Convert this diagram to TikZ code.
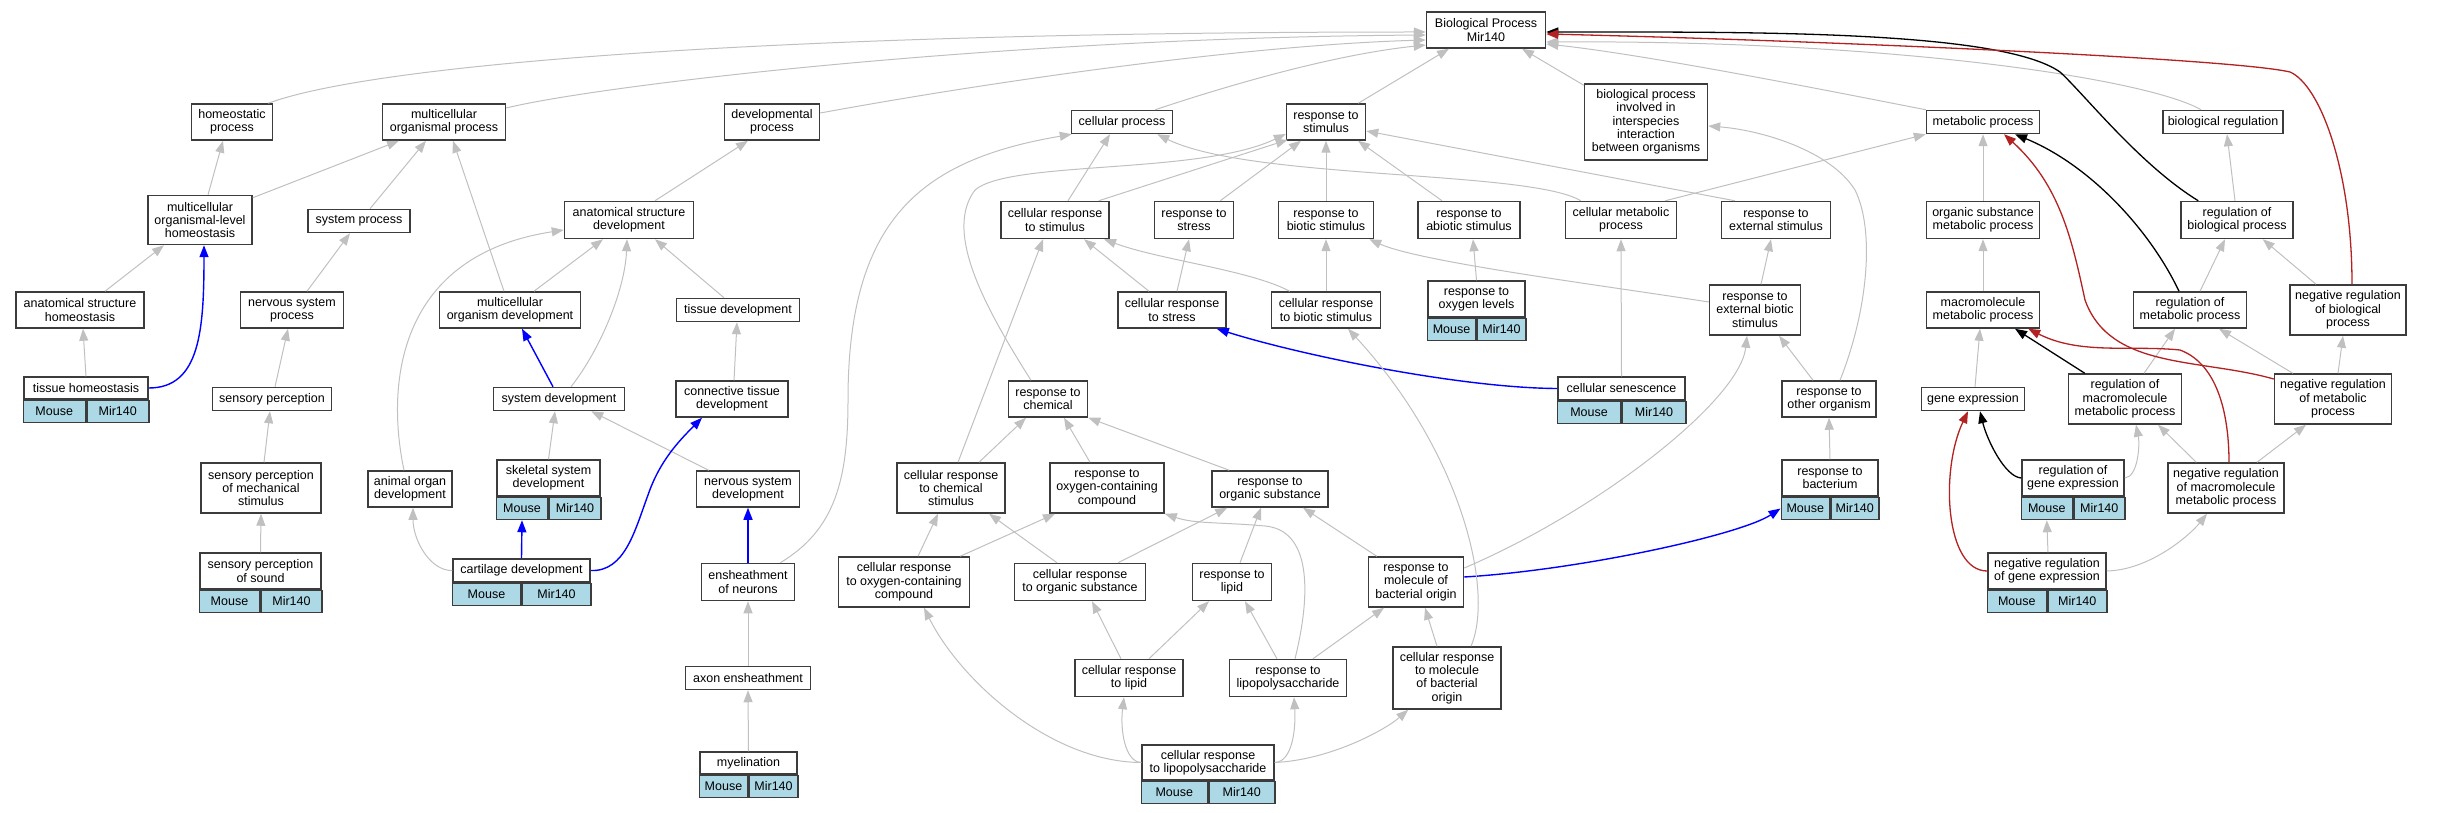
\documentclass[tikz,border=0pt]{standalone}
\usepackage{fontspec}
\setmainfont{Liberation Sans}
\usetikzlibrary{arrows.meta}
\definecolor{edgegray}{HTML}{C0C0C0}
\definecolor{boxblue}{HTML}{ADD8E6}
\definecolor{negred}{HTML}{B22222}
\definecolor{boxline}{HTML}{3C3C3C}

\begin{document}
\begin{tikzpicture}[x=1pt, y=-1pt,
    term/.style 2 args={draw=boxline, line width=1.5pt, fill=white, align=center, inner sep=0pt,
        minimum width=#1pt, minimum height=#2pt, font=\fontsize{12.5}{13.3}\selectfont},
    cell/.style={draw=boxline, line width=1.5pt, fill=boxblue, inner sep=0pt,
        minimum height=22pt, font=\fontsize{12.5}{13.3}\selectfont},
    isa/.style={draw=edgegray, line width=1pt, -{Triangle[length=12pt,width=9pt]}},
    partof/.style={isa, draw=blue, line width=1.4pt},
    regulates/.style={isa, draw=black, line width=1.3pt},
    negreg/.style={isa, draw=negred, line width=1.3pt}]

    \useasboundingbox (0,0) rectangle (2437,813);

    % Row 1
    \node[term={119}{36}] (bp) at (1486,30) {Biological Process\\Mir140};
    \node[term={81}{36}] (homeo) at (232,122) {homeostatic\\process};
    \node[term={123}{36}] (mcop) at (444,122) {multicellular\\organismal process};
    \node[term={95}{36}] (devproc) at (772,122) {developmental\\process};
    \node[term={101}{23}] (cellproc) at (1122,122) {cellular process};
    \node[term={79}{36}] (respstim) at (1326,122) {response to\\stimulus};
    \node[term={123}{76}] (interspecies) at (1646,122) {biological process\\involved in\\interspecies\\interaction\\between organisms};
    \node[term={113}{23}] (metproc) at (1983,122) {metabolic process};
    \node[term={120}{23}] (bioreg) at (2223,122) {biological regulation};

    % Row 2
    \node[term={104}{49}] (mclhomeo) at (200,220) {multicellular\\organismal-level\\homeostasis};
    \node[term={102}{23}] (sysproc) at (359,221) {system process};
    \node[term={129}{37}] (asdev) at (629,220) {anatomical structure\\development};
    \node[term={108}{37}] (crstim) at (1055,220) {cellular response\\to stimulus};
    \node[term={79}{37}] (respstress) at (1194,220) {response to\\stress};
    \node[term={95}{37}] (respbiotic) at (1326,220) {response to\\biotic stimulus};
    \node[term={102}{37}] (respabiotic) at (1469,220) {response to\\abiotic stimulus};
    \node[term={111}{37}] (cellmet) at (1621,220) {cellular metabolic\\process};
    \node[term={109}{37}] (respext) at (1776,220) {response to\\external stimulus};
    \node[term={113}{37}] (osmet) at (1983,220) {organic substance\\metabolic process};
    \node[term={112}{37}] (regbio) at (2237,220) {regulation of\\biological process};

    % Row 3
    \node[term={128}{36}] (ashomeo) at (80,310) {anatomical structure\\homeostasis};
    \node[term={103}{36}] (nsproc) at (292,310) {nervous system\\process};
    \node[term={141}{36}] (mcodev) at (510,310) {multicellular\\organism development};
    \node[term={123}{23}] (tissuedev) at (738,310) {tissue development};
    \node[term={108}{36}] (crstress) at (1172,310) {cellular response\\to stress};
    \node[term={109}{36}] (crbiotic) at (1326,310) {cellular response\\to biotic stimulus};
    \node[term={97}{36}] (respox) at (1476.5,299) {response to\\oxygen levels};
    \node[term={91}{50}] (respextbio) at (1755,310) {response to\\external biotic\\stimulus};
    \node[term={113}{36}] (macromet) at (1983,310) {macromolecule\\metabolic process};
    \node[term={113}{36}] (regmet) at (2190,310) {regulation of\\metabolic process};
    \node[term={116}{50}] (negregbio) at (2348,310) {negative regulation\\of biological\\process};

    % Row 4
    \node[term={124}{22}] (tissuehomeo) at (86,388) {tissue homeostasis};
    \node[term={119}{23}] (sensperc) at (272,399) {sensory perception};
    \node[term={131}{23}] (sysdev) at (559,399) {system development};
    \node[term={112}{36}] (ctdev) at (732,399) {connective tissue\\development};
    \node[term={79}{36}] (respchem) at (1048,399) {response to\\chemical};
    \node[term={127}{23}] (cellsen) at (1621.5,388.5) {cellular senescence};
    \node[term={94}{36}] (respother) at (1829,399) {response to\\other organism};
    \node[term={103}{23}] (geneexp) at (1973,399) {gene expression};
    \node[term={113}{50}] (regmacro) at (2125,399) {regulation of\\macromolecule\\metabolic process};
    \node[term={117}{50}] (negregmet) at (2333,399) {negative regulation\\of metabolic\\process};

    % Row 5
    \node[term={120}{50}] (spmech) at (261,488) {sensory perception\\of mechanical\\stimulus};
    \node[term={84}{36}] (aodev) at (410,489) {animal organ\\development};
    \node[term={103}{36}] (skeletal) at (548.5,478) {skeletal system\\development};
    \node[term={103}{36}] (nsdev) at (748,489) {nervous system\\development};
    \node[term={108}{50}] (crchem) at (951,488) {cellular response\\to chemical\\stimulus};
    \node[term={114}{50}] (respoxy) at (1107,488) {response to\\oxygen-containing\\compound};
    \node[term={116}{36}] (resporg) at (1270,489) {response to\\organic substance};
    \node[term={96}{36}] (respbact) at (1830,478) {response to\\bacterium};
    \node[term={102}{36}] (regge) at (2073,478) {regulation of\\gene expression};
    \node[term={116}{50}] (negregmacro) at (2226,488) {negative regulation\\of macromolecule\\metabolic process};

    % Row 6
    \node[term={121}{36}] (spsound) at (260.5,571) {sensory perception\\of sound};
    \node[term={137}{23}] (cartilage) at (521.5,570.5) {cartilage development};
    \node[term={93}{37}] (enshe) at (748,582) {ensheathment\\of neurons};
    \node[term={131}{50}] (croxy) at (904,582) {cellular response\\to oxygen-containing\\compound};
    \node[term={131}{37}] (crorg) at (1080,582) {cellular response\\to organic substance};
    \node[term={79}{37}] (resplipid) at (1232,582) {response to\\lipid};
    \node[term={95}{50}] (respmol) at (1416,582) {response to\\molecule of\\bacterial origin};
    \node[term={118}{36}] (negregge) at (2047,571) {negative regulation\\of gene expression};

    % Row 7 and 8
    \node[term={125}{23}] (axon) at (748,678) {axon ensheathment};
    \node[term={108}{37}] (crlipid) at (1129,678) {cellular response\\to lipid};
    \node[term={117}{37}] (resplps) at (1288,678) {response to\\lipopolysaccharide};
    \node[term={108}{62}] (crmol) at (1447,678) {cellular response\\to molecule\\of bacterial\\origin};
    \node[term={97}{22}] (myelin) at (748.5,763) {myelination};
    \node[term={132}{35}] (crlps) at (1208,762.5) {cellular response\\to lipopolysaccharide};

    % Annotation cells
    \foreach \n/\w in {tissuehomeo/62pt, spsound/60.5pt, skeletal/51.5pt, cartilage/68.5pt,
        myelin/48.5pt, crlps/66pt, respox/48.5pt, cellsen/63.5pt, respbact/48pt,
        regge/51pt, negregge/59pt} {
        \node[cell, minimum width=\w, anchor=north east] (\n-mouse) at (\n.south) {Mouse};
        \node[cell, minimum width=\w, anchor=north west] (\n-mir) at (\n.south) {Mir140};
    }

    % Edges into the root
    \draw[isa] ([shift={(-5,0)}]homeo.north east) .. controls (380,62) and (800,32) .. ([shift={(0,2)}]bp.west);
    \draw[isa] ([shift={(0,-14)}]mcop.east) .. controls (600,85) and (1000,38) .. ([shift={(0,5)}]bp.west);
    \draw[isa] ([shift={(0,-9)}]devproc.east) .. controls (1000,80) and (1250,45) .. ([shift={(0,10)}]bp.west);
    \draw[isa] ([shift={(-18,0)}]cellproc.north east) .. controls (1220,88) and (1330,55) .. ([shift={(0,15)}]bp.west);
    \draw[isa] ([shift={(-8,0)}]respstim.north east) -- ([shift={(-37,0)}]bp.south);
    \draw[isa] ([shift={(0,2)}]interspecies.north west) -- ([shift={(36,0)}]bp.south);
    \draw[isa] (metproc.north west) .. controls (1850,95) and (1650,55) .. ([shift={(0,14)}]bp.east);
    \draw[isa] ([shift={(-22,0)}]bioreg.north) .. controls (2150,80) and (1900,40) .. ([shift={(0,12)}]bp.east);
    \draw[regulates] ([shift={(18,0)}]regbio.north west) .. controls (2140,165) and (2085,95) .. (2060,72)
        .. controls (2000,30) and (1750,32) .. ([shift={(0,2)}]bp.east);
    \draw[negreg] ([shift={(4,0)}]negregbio.north) .. controls (2352,170) and (2320,85) .. (2290,72)
        .. controls (2230,58) and (1800,40) .. ([shift={(0,4)}]bp.east);

    % Left part
    \draw[isa] ([shift={(8,0)}]mclhomeo.north) -- ([shift={(-9,0)}]homeo.south);
    \draw[isa] ([shift={(0,3)}]mclhomeo.north east) -- ([shift={(-45,0)}]mcop.south);
    \draw[isa] ([shift={(11,0)}]sysproc.north) -- ([shift={(-18,0)}]mcop.south);
    \draw[isa] ([shift={(-6,0)}]mcodev.north) -- ([shift={(9,0)}]mcop.south);
    \draw[isa] ([shift={(25,0)}]ashomeo.north) -- ([shift={(-36,0)}]mclhomeo.south);
    \draw[partof] (tissuehomeo.east) .. controls (200,388) and (204,330) .. ([shift={(4,0)}]mclhomeo.south);
    \draw[isa] (tissuehomeo.north) -- ([shift={(3,0)}]ashomeo.south);
    \draw[isa] ([shift={(15,0)}]nsproc.north) -- ([shift={(-9,0)}]sysproc.south);
    \draw[isa] ([shift={(3,0)}]sensperc.north) -- ([shift={(-4,0)}]nsproc.south);
    \draw[isa] ([shift={(3,0)}]spmech.north) -- ([shift={(-2,0)}]sensperc.south);
    \draw[isa] (spsound.north) -- (spmech.south);
    \draw[isa] ([shift={(-6,0)}]aodev.north) .. controls (385,380) and (400,255) .. ([shift={(0,10)}]asdev.west);
    \draw[isa] ([shift={(24,0)}]mcodev.north) -- ([shift={(-26,0)}]asdev.south);
    \draw[partof] ([shift={(-6,0)}]sysdev.north) -- ([shift={(12,0)}]mcodev.south);
    \draw[isa] ([shift={(12,0)}]sysdev.north) .. controls (600,350) and (625,290) .. ([shift={(-2,0)}]asdev.south);
    \draw[isa] (skeletal.north) -- ([shift={(-4,0)}]sysdev.south);
    \draw[isa] ([shift={(13,0)}]nsdev.north west) -- ([shift={(-34,0)}]sysdev.south east);
    \draw[partof] (cartilage.north) -- (skeletal-mouse.south);
    \draw[partof] (cartilage.east) .. controls (625,572) and (635,530) .. (648,495)
        .. controls (660,460) and (680,440) .. ([shift={(-30,0)}]ctdev.south);
    \draw[isa] (cartilage.west) .. controls (430,571) and (413,540) .. ([shift={(3,0)}]aodev.south);
    \draw[isa] ([shift={(26,0)}]asdev.north) -- ([shift={(-24,0)}]devproc.south);
    \draw[isa] ([shift={(-14,0)}]tissuedev.north) -- ([shift={(26,0)}]asdev.south);
    \draw[isa] ([shift={(2,0)}]ctdev.north) -- ([shift={(-1,0)}]tissuedev.south);
    \draw[partof] (enshe.north) -- (nsdev.south);
    \draw[isa] ([shift={(-15,0)}]enshe.north east) .. controls (835,530) and (848,480) .. (848,400)
        .. controls (848,220) and (920,160) .. ([shift={(1,0)}]cellproc.south west);
    \draw[isa] (axon.north) -- (enshe.south);
    \draw[isa] (myelin.north) -- (axon.south);

    % Middle part
    \draw[isa] ([shift={(13,0)}]crstim.north) -- ([shift={(-12,0)}]cellproc.south);
    \draw[isa] ([shift={(16,0)}]cellmet.north west) .. controls (1530,170) and (1250,180) .. ([shift={(-16,0)}]cellproc.south east);
    \draw[isa] ([shift={(-11,0)}]crstim.north east) -- ([shift={(2,-1)}]respstim.south west);
    \draw[isa] ([shift={(-17,0)}]respchem.north) .. controls (980,300) and (945,230) .. (975,190)
        .. controls (1010,160) and (1200,175) .. ([shift={(0,12)}]respstim.west);
    \draw[isa] ([shift={(-14,0)}]respstress.north east) -- ([shift={(-25,0)}]respstim.south);
    \draw[isa] (respbiotic.north) -- (respstim.south);
    \draw[isa] ([shift={(-27,0)}]respabiotic.north) -- ([shift={(32,0)}]respstim.south);
    \draw[isa] ([shift={(14,0)}]respext.north west) -- ([shift={(0,9)}]respstim.east);
    \draw[isa] (respox.north) -- ([shift={(4,0)}]respabiotic.south);
    \draw[isa] (cellsen.north) -- (cellmet.south);
    \draw[partof] (cellsen.west) .. controls (1460,388) and (1300,355) .. ([shift={(-10,0)}]crstress.south east);
    \draw[isa] ([shift={(-23,0)}]crstress.north) -- ([shift={(29,0)}]crstim.south);
    \draw[isa] ([shift={(5,0)}]crstress.north) -- ([shift={(-5,0)}]respstress.south);
    \draw[isa] (crbiotic.north) -- (respbiotic.south);
    \draw[isa] ([shift={(19,0)}]crbiotic.north west) .. controls (1250,270) and (1160,260) .. ([shift={(49,0)}]crstim.south);
    \draw[isa] ([shift={(0,-8)}]respextbio.west) .. controls (1600,285) and (1420,262) .. ([shift={(-5,0)}]respbiotic.south east);
    \draw[isa] ([shift={(6,0)}]respextbio.north) -- ([shift={(-5,0)}]respext.south);
    \draw[isa] ([shift={(-16,0)}]respother.north) -- ([shift={(24,0)}]respextbio.south);
    \draw[isa] ([shift={(11,0)}]respother.north) .. controls (1868,310) and (1875,230) .. (1855,190)
        .. controls (1830,150) and (1760,130) .. ([shift={(0,4)}]interspecies.east);
    \draw[isa] (respbact.north) -- (respother.south);
    \draw[partof] ([shift={(0,-5)}]respmol.east) .. controls (1580,570) and (1740,535) .. (respbact-mouse.west);
    \draw[isa] ([shift={(0,-14)}]respmol.east) .. controls (1600,510) and (1740,400) .. ([shift={(-8,0)}]respextbio.south);
    \draw[isa] ([shift={(9,0)}]respmol.north west) -- ([shift={(33,0)}]resporg.south);
    \draw[isa] ([shift={(24,0)}]crmol.north) .. controls (1495,590) and (1460,450) .. ([shift={(22,0)}]crbiotic.south);
    \draw[isa] ([shift={(-10,0)}]crmol.north) -- ([shift={(9,0)}]respmol.south);
    \draw[isa] ([shift={(18,0)}]resporg.north west) -- (respchem.south east);
    \draw[isa] ([shift={(-17,0)}]respoxy.north) -- ([shift={(16,0)}]respchem.south);
    \draw[isa] ([shift={(28,0)}]crchem.north) -- ([shift={(-22,0)}]respchem.south);
    \draw[isa] ([shift={(7,0)}]crchem.north) -- ([shift={(-12,0)}]crstim.south);
    \draw[isa] ([shift={(14,0)}]croxy.north) -- ([shift={(-13,0)}]crchem.south);
    \draw[isa] ([shift={(-10,0)}]croxy.north east) -- ([shift={(-52,0)}]respoxy.south);
    \draw[isa] ([shift={(-23,0)}]crorg.north) -- ([shift={(38,0)}]crchem.south);
    \draw[isa] ([shift={(38,0)}]crorg.north) -- ([shift={(16,0)}]resporg.south west);
    \draw[isa] ([shift={(8,0)}]resplipid.north) -- ([shift={(-9,0)}]resporg.south);
    \draw[isa] ([shift={(-8,0)}]crlipid.north) -- ([shift={(12,0)}]crorg.south);
    \draw[isa] ([shift={(20,0)}]crlipid.north) -- ([shift={(-23,0)}]resplipid.south);
    \draw[isa] ([shift={(-11,0)}]resplps.north) -- ([shift={(13,0)}]resplipid.south);
    \draw[isa] ([shift={(25,0)}]resplps.north) -- ([shift={(-32,0)}]respmol.south);
    \draw[isa] ([shift={(7,0)}]resplps.north) .. controls (1312,590) and (1310,530) .. (1265,526)
        .. controls (1220,522) and (1195,524) .. (respoxy.south east);
    \draw[isa] (crlps.west) .. controls (1125,762) and (1120,730) .. ([shift={(-5,0)}]crlipid.south);
    \draw[isa] (crlps.east) .. controls (1292,762) and (1296,730) .. ([shift={(6,0)}]resplps.south);
    \draw[isa] (crlps.east) .. controls (1330,760) and (1385,730) .. ([shift={(16,0)}]crmol.south west);
    \draw[isa] (crlps.west) .. controls (1050,762) and (960,680) .. ([shift={(20,0)}]croxy.south);

    % Right part
    \draw[isa] ([shift={(-12,0)}]cellmet.north east) -- (metproc.south west);
    \draw[isa] (osmet.north) -- (metproc.south);
    \draw[isa] (macromet.north) -- (osmet.south);
    \draw[isa] ([shift={(2,0)}]geneexp.north) -- ([shift={(-3,0)}]macromet.south);
    \draw[isa] ([shift={(-2,0)}]regbio.north) -- ([shift={(4,0)}]bioreg.south);
    \draw[regulates] ([shift={(-11,0)}]regmet.north) .. controls (2150,230) and (2090,165) .. ([shift={(32,0)}]metproc.south);
    \draw[isa] ([shift={(10,0)}]regmet.north) -- ([shift={(-12,0)}]regbio.south);
    \draw[isa] ([shift={(-32,0)}]negregbio.north) -- ([shift={(-31,0)}]regbio.south east);
    \draw[regulates] ([shift={(17,0)}]regmacro.north west) -- ([shift={(32,0)}]macromet.south);
    \draw[isa] ([shift={(19,0)}]regmacro.north) -- ([shift={(-15,0)}]regmet.south);
    \draw[isa] ([shift={(19,0)}]negregmet.north west) -- ([shift={(29,0)}]regmet.south);
    \draw[isa] ([shift={(5,0)}]negregmet.north) -- ([shift={(-5,0)}]negregbio.south);
    \draw[negreg] ([shift={(0,-20)}]negregmet.west) .. controls (2200,358) and (2110,370) .. (2085,300)
        .. controls (2072,240) and (2060,185) .. ([shift={(21,0)}]metproc.south);
    \draw[negreg] ([shift={(3,0)}]negregmacro.north) .. controls (2229,420) and (2220,365) .. (2180,350)
        .. controls (2130,345) and (2080,355) .. ([shift={(-12,0)}]macromet.south east);
    \draw[isa] ([shift={(29,0)}]negregmacro.north west) -- ([shift={(33,0)}]regmacro.south);
    \draw[isa] ([shift={(31,0)}]negregmacro.north) -- ([shift={(-27,0)}]negregmet.south);
    \draw[regulates] (regge.west) .. controls (2005,477) and (1987,440) .. ([shift={(7,0)}]geneexp.south);
    \draw[isa] (regge.east) .. controls (2138,477) and (2140,445) .. ([shift={(11,0)}]regmacro.south);
    \draw[isa] ([shift={(1,0)}]negregge.north) -- (regge-mouse.south);
    \draw[negreg] (negregge.west) .. controls (1945,571) and (1940,470) .. ([shift={(-5,0)}]geneexp.south);
    \draw[isa] (negregge.east) .. controls (2150,570) and (2190,535) .. ([shift={(-19,0)}]negregmacro.south);
\end{tikzpicture}
\end{document}
